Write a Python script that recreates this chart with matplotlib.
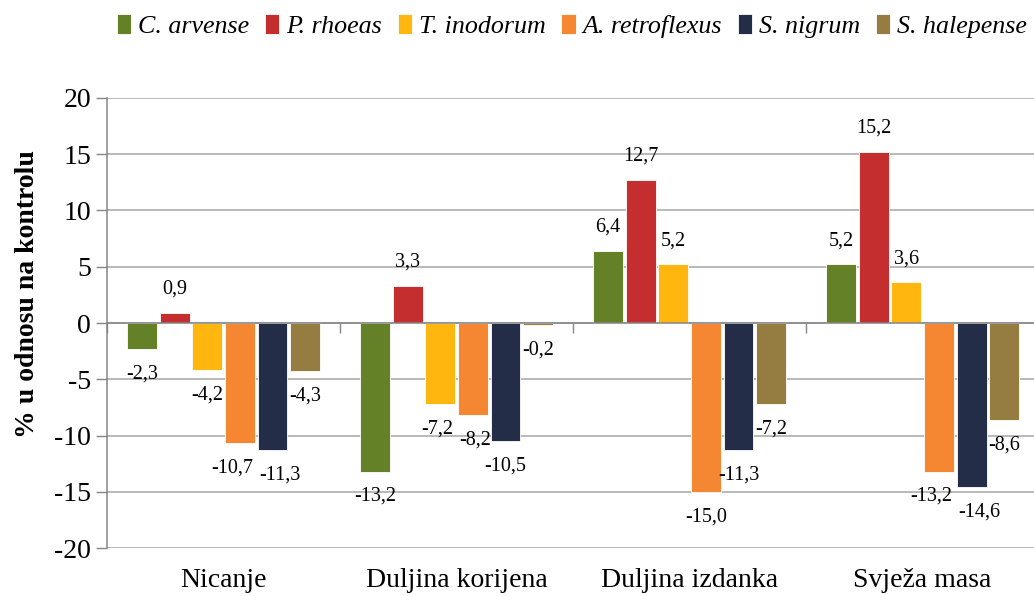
import numpy as np
import matplotlib.pyplot as plt
import matplotlib.transforms as mtransforms

# % change relative to control, per trait and weed species
categories = ['Nicanje', 'Duljina korijena', 'Duljina izdanka', 'Svježa masa']
species = ['C. arvense', 'P. rhoeas', 'T. inodorum', 'A. retroflexus',
           'S. nigrum', 'S. halepense']

c_arvense = [-2.3, -13.2, 6.4, 5.2]
p_rhoeas = [0.9, 3.3, 12.7, 15.2]
t_inodorum = [-4.2, -7.2, 5.2, 3.6]
a_retroflexus = [-10.7, -8.2, -15.0, -13.2]
s_nigrum = [-11.3, -10.5, -11.3, -14.6]
s_halepense = [-4.3, -0.2, -7.2, -8.6]

series = [c_arvense, p_rhoeas, t_inodorum, a_retroflexus, s_nigrum, s_halepense]
colors = ['#658127', '#C42E2E', '#FFB60F', '#F58733', '#242D48', '#957D42']

plt.rcParams['font.family'] = ['Liberation Serif', 'DejaVu Serif']
plt.rcParams['axes.unicode_minus'] = False

fig = plt.figure(figsize=(10.34, 5.96), dpi=100)
ax = fig.add_axes([0.1035, 0.0805, 0.9015, 0.7551])

x = np.arange(len(categories))
step = 0.14
width = 0.128
labels = [[] for _ in categories]   # data labels per group, in bar order
for i, (vals, col, name) in enumerate(zip(series, colors, species)):
    xpos = x + (i - 2.5) * step
    ax.bar(xpos, vals, width, color=col, edgecolor='white',
           linewidth=0.6, label=name, zorder=3)
    for g, (xp, v) in enumerate(zip(xpos, vals)):
        off = 17 if v >= 0 else -18
        t = ax.annotate(('%.1f' % v).replace('.', ','), (xp, v),
                        xytext=(0, off), textcoords='offset points',
                        ha='center', va='center', fontsize=14.5)
        labels[g].append(t)

# -------------------------------------------
# axes styling (Excel look)
ax.set_xlim(-0.5, 3.5)
ax.set_ylim(-20, 20)
ax.set_yticks(np.arange(-20, 21, 5))
ax.tick_params(axis='y', labelsize=20, length=8, color='#868686', width=1)
ax.yaxis.grid(True, color='#A6A6A6', linewidth=1.1, zorder=0)
ax.set_axisbelow(True)

ax.spines['top'].set_visible(False)
ax.spines['right'].set_visible(False)
ax.spines['left'].set_color('#868686')
ax.spines['left'].set_linewidth(1.1)
ax.spines['bottom'].set_position(('data', 0))
ax.spines['bottom'].set_color('#868686')
ax.spines['bottom'].set_linewidth(1.1)
ax.spines['bottom'].set_zorder(4)

ax.set_xticks(np.arange(-0.5, 3.6, 1.0))
ax.set_xticklabels([])
ax.tick_params(axis='x', length=7, color='#868686', width=1)

trans = mtransforms.blended_transform_factory(ax.transData, ax.transAxes)
for xi, cat in zip(x, categories):
    ax.text(xi, -0.072, cat, transform=trans, ha='center', va='center',
            fontsize=20)

ax.set_ylabel('% u odnosu na kontrolu', fontsize=20, fontweight='bold')
ax.yaxis.set_label_coords(-0.072, 0.565)

leg = fig.legend(loc='center', bbox_to_anchor=(0.553, 0.956), ncol=6,
                 frameon=False, handlelength=0.55, handleheight=0.8,
                 handletextpad=0.25, columnspacing=0.62,
                 prop={'style': 'italic', 'size': 18.7})

# push apart neighbouring data labels that collide (like the moved Excel labels)
fig.canvas.draw()
r = fig.canvas.get_renderer()
px2pt = 72.0 / fig.dpi
for grp in labels:
    for a, b in zip(grp[:-1], grp[1:]):
        ba = a.get_window_extent(r)
        bb = b.get_window_extent(r)
        xo = ba.x1 - bb.x0
        yo = min(ba.y1, bb.y1) - max(ba.y0, bb.y0)
        if xo > -4 and yo > -2:
            shift = (xo + 6) / 2 * px2pt
            xa, ya = a.xyann
            xb, yb = b.xyann
            a.xyann = (xa - shift, ya)
            b.xyann = (xb + shift, yb)

fig.savefig('out.png', dpi=100)
